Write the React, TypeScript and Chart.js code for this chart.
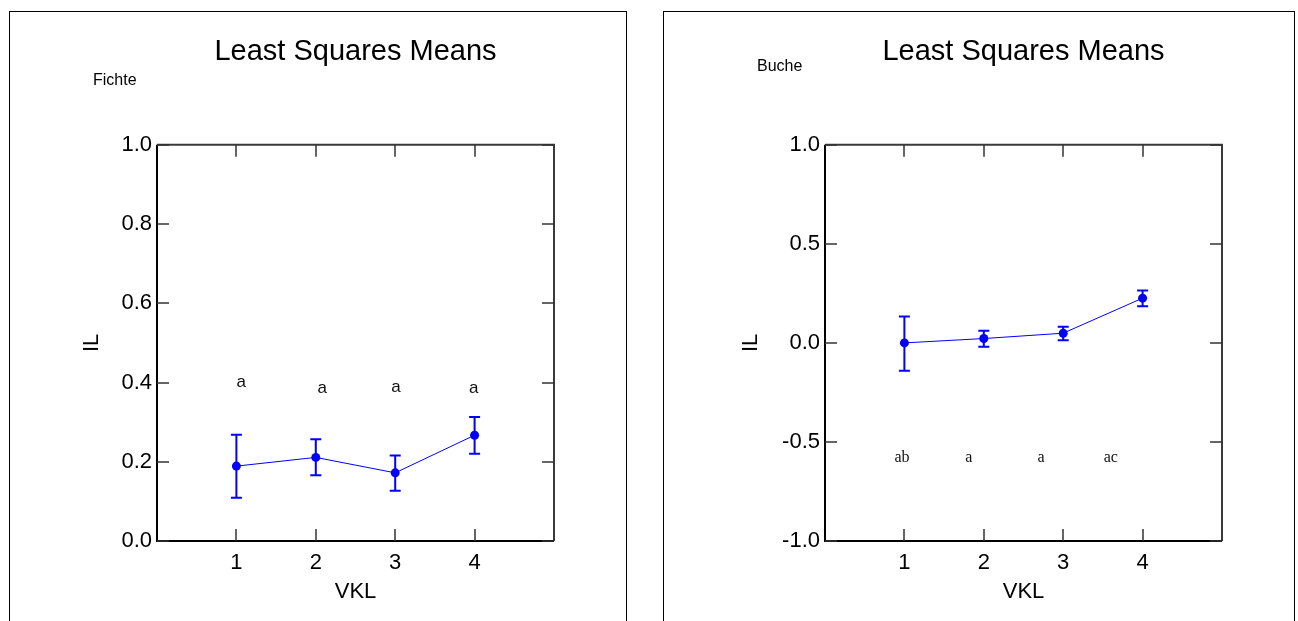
import React, { useEffect, useRef } from "react";
import { Chart, registerables } from "chart.js";

Chart.register(...registerables);

const SANS = "Arial, 'Liberation Sans', Helvetica, sans-serif";
const SERIF = "'Times New Roman', 'Liberation Serif', serif";
const BLUE = "#0000ff";

// ---- data ----
const vkl = [1, 2, 3, 4];
const xTicks = [1, 2, 3, 4];

const fichteMean = [0.189, 0.211, 0.172, 0.267];
const fichteLower = [0.109, 0.166, 0.127, 0.22];
const fichteUpper = [0.268, 0.257, 0.216, 0.313];
const fichteLetters = ["a", "a", "a", "a"];
const fichteLetterX = [1.06, 2.08, 3.01, 3.99];
const fichteLetterY = [0.388, 0.374, 0.377, 0.374];
const fichteYTicks = [0, 0.2, 0.4, 0.6, 0.8, 1.0];

const bucheMean = [0.0, 0.022, 0.049, 0.226];
const bucheLower = [-0.14, -0.02, 0.014, 0.185];
const bucheUpper = [0.133, 0.061, 0.082, 0.264];
const bucheLetters = ["ab", "a", "a", "ac"];
const bucheLetterX = [0.97, 1.81, 2.72, 3.6];
const bucheLetterY = [-0.601, -0.601, -0.601, -0.601];
const bucheYTicks = [-1.0, -0.5, 0, 0.5, 1.0];

type Spec = {
  name: string;
  nameX: number;
  nameY: number;
  mean: number[];
  lower: number[];
  upper: number[];
  letters: string[];
  letterX: number[];
  letterY: number[];
  letterFont: string;
  yTicks: number[];
  yMin: number;
  yMax: number;
  yAxisWidth: number;
  yTitlePad: number;
};

const fichte: Spec = {
  name: "Fichte",
  nameX: 83,
  nameY: 73,
  mean: fichteMean,
  lower: fichteLower,
  upper: fichteUpper,
  letters: fichteLetters,
  letterX: fichteLetterX,
  letterY: fichteLetterY,
  letterFont: `17px ${SANS}`,
  yTicks: fichteYTicks,
  yMin: 0,
  yMax: 1,
  yAxisWidth: 147,
  yTitlePad: 69,
};

const buche: Spec = {
  name: "Buche",
  nameX: 93,
  nameY: 59,
  mean: bucheMean,
  lower: bucheLower,
  upper: bucheUpper,
  letters: bucheLetters,
  letterX: bucheLetterX,
  letterY: bucheLetterY,
  letterFont: `16px ${SERIF}`,
  yTicks: bucheYTicks,
  yMin: -1,
  yMax: 1,
  yAxisWidth: 161,
  yTitlePad: 74,
};

function makeDecor(spec: Spec) {
  return {
    id: "lsmDecor",
    beforeDatasetsDraw(chart: any) {
      const { ctx, chartArea: a, scales } = chart;
      const xs = scales.x;
      const ys = scales.y;
      ctx.save();
      // frame
      ctx.lineCap = "butt";
      ctx.strokeStyle = "#3a3a3a";
      ctx.lineWidth = 2;
      ctx.beginPath();
      ctx.moveTo(a.left, a.top);
      ctx.lineTo(a.right, a.top);
      ctx.lineTo(a.right, a.bottom);
      ctx.stroke();
      ctx.strokeStyle = "#000";
      ctx.beginPath();
      ctx.moveTo(a.left, a.top);
      ctx.lineTo(a.left, a.bottom);
      ctx.lineTo(a.right, a.bottom);
      ctx.stroke();
      // inward ticks
      ctx.strokeStyle = "#333";
      ctx.lineWidth = 1.5;
      const tl = 12;
      ctx.beginPath();
      spec.yTicks.forEach((v) => {
        const y = Math.round(ys.getPixelForValue(v));
        ctx.moveTo(a.left, y);
        ctx.lineTo(a.left + tl, y);
        ctx.moveTo(a.right, y);
        ctx.lineTo(a.right - tl, y);
      });
      xTicks.forEach((v) => {
        const x = Math.round(xs.getPixelForValue(v));
        ctx.moveTo(x, a.bottom);
        ctx.lineTo(x, a.bottom - tl);
        ctx.moveTo(x, a.top);
        ctx.lineTo(x, a.top + tl);
      });
      ctx.stroke();
      // error bars
      ctx.strokeStyle = BLUE;
      ctx.lineWidth = 2;
      const cap = 5.5;
      vkl.forEach((xv, i) => {
        const x = xs.getPixelForValue(xv);
        const yl = ys.getPixelForValue(spec.lower[i]);
        const yu = ys.getPixelForValue(spec.upper[i]);
        ctx.beginPath();
        ctx.moveTo(x, yl);
        ctx.lineTo(x, yu);
        ctx.moveTo(x - cap, yl);
        ctx.lineTo(x + cap, yl);
        ctx.moveTo(x - cap, yu);
        ctx.lineTo(x + cap, yu);
        ctx.stroke();
      });
      ctx.restore();
    },
    afterDatasetsDraw(chart: any) {
      const { ctx, scales } = chart;
      const xs = scales.x;
      const ys = scales.y;
      ctx.save();
      ctx.fillStyle = "#111";
      ctx.font = spec.letterFont;
      ctx.textAlign = "center";
      ctx.textBaseline = "alphabetic";
      spec.letters.forEach((t, i) => {
        ctx.fillText(t, xs.getPixelForValue(spec.letterX[i]), ys.getPixelForValue(spec.letterY[i]));
      });
      ctx.font = `16px ${SANS}`;
      ctx.textAlign = "left";
      ctx.fillStyle = "#000";
      ctx.fillText(spec.name, spec.nameX, spec.nameY);
      ctx.restore();
    },
  };
}

function Panel({ left, width, spec }: { left: number; width: number; spec: Spec }) {
  const ref = useRef<HTMLCanvasElement | null>(null);
  const cw = width - 2;
  const ch = 609;
  useEffect(() => {
    if (!ref.current) return;
    const chart = new Chart(ref.current, {
      type: "line",
      data: {
        datasets: [
          {
            data: vkl.map((x, i) => ({ x, y: spec.mean[i] })),
            borderColor: BLUE,
            backgroundColor: BLUE,
            borderWidth: 1,
            pointRadius: 4.5,
            pointBackgroundColor: BLUE,
            pointBorderColor: BLUE,
            pointBorderWidth: 0,
            tension: 0,
            fill: false,
          },
        ],
      },
      options: {
        responsive: false,
        animation: false,
        devicePixelRatio: 1,
        events: [],
        layout: { padding: { top: 0, right: 72, bottom: 0, left: 0 } },
        plugins: {
          legend: { display: false },
          tooltip: { enabled: false },
          title: {
            display: true,
            text: "Least Squares Means",
            fullSize: false,
            color: "#000",
            font: { family: SANS, size: 29, weight: "normal" },
            padding: { top: 23, bottom: 75 },
          },
        },
        scales: {
          x: {
            type: "linear",
            min: 0,
            max: 5,
            grid: { display: false, drawTicks: false },
            border: { display: false },
            afterBuildTicks: (s: any) => {
              s.ticks = xTicks.map((v) => ({ value: v }));
            },
            afterFit: (s: any) => {
              s.height = 80;
            },
            ticks: {
              color: "#000",
              font: { family: SANS, size: 22 },
              padding: 9,
              maxRotation: 0,
              autoSkip: false,
              callback: (v: any) => String(v),
            },
            title: {
              display: true,
              text: "VKL",
              color: "#000",
              font: { family: SANS, size: 22 },
              padding: { top: 0, bottom: 16 },
            },
          },
          y: {
            type: "linear",
            min: spec.yMin,
            max: spec.yMax,
            grid: { display: false, drawTicks: false },
            border: { display: false },
            afterBuildTicks: (s: any) => {
              s.ticks = spec.yTicks.map((v) => ({ value: v }));
            },
            afterFit: (s: any) => {
              s.width = spec.yAxisWidth;
            },
            ticks: {
              color: "#000",
              font: { family: SANS, size: 22 },
              padding: 5,
              autoSkip: false,
              callback: (v: any) => Number(v).toFixed(1),
            },
            title: {
              display: true,
              text: "IL",
              color: "#000",
              font: { family: SANS, size: 22 },
              padding: { top: spec.yTitlePad, bottom: 0 },
            },
          },
        },
      } as any,
      plugins: [makeDecor(spec)],
    });
    return () => chart.destroy();
  }, [spec]);
  return (
    <div
      style={{
        position: "absolute",
        left,
        top: 11,
        width,
        height: 610,
        boxSizing: "border-box",
        borderLeft: "1px solid #000",
        borderTop: "1px solid #000",
        borderRight: "1px solid #000",
      }}
    >
      <canvas ref={ref} width={cw} height={ch} style={{ display: "block", width: cw, height: ch }} />
    </div>
  );
}

export default function App() {
  return (
    <div
      style={{
        position: "absolute",
        left: 0,
        top: 0,
        width: 1298,
        height: 621,
        overflow: "hidden",
        background: "#fff",
      }}
    >
      <Panel left={9} width={618} spec={fichte} />
      <Panel left={663} width={632} spec={buche} />
    </div>
  );
}
